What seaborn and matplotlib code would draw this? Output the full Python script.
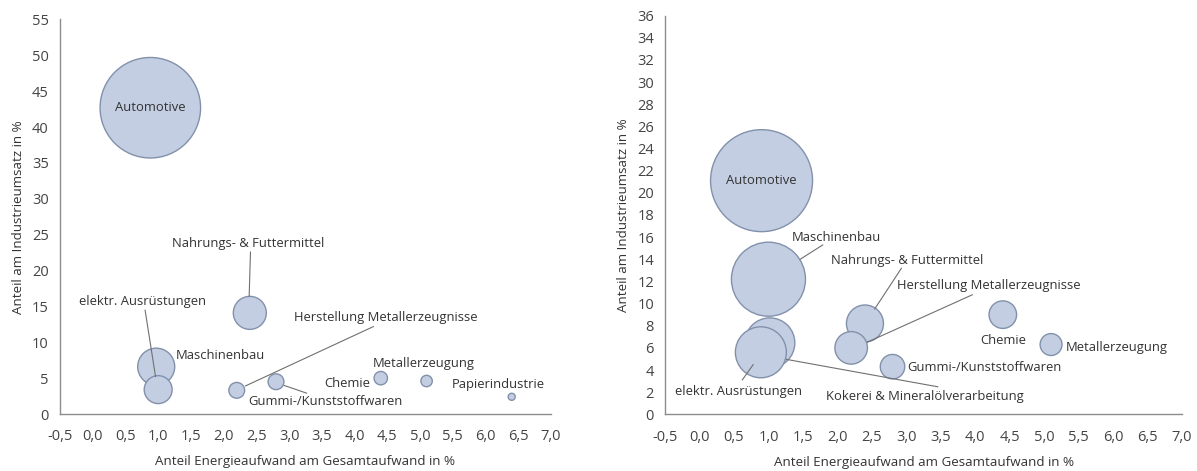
import matplotlib
matplotlib.use("Agg")
import matplotlib.pyplot as plt
import seaborn as sns
import pandas as pd
from matplotlib.ticker import FuncFormatter, MultipleLocator

sns.set_theme(style="white")
plt.rcParams['font.family'] = ['Open Sans', 'DejaVu Sans']

# ---------------- data: left chart ----------------
left_sectors = ["Automotive", "Nahrungs- & Futtermittel", "Maschinenbau",
                "elektr. Ausrüstungen", "Herstellung Metallerzeugnisse",
                "Gummi-/Kunststoffwaren", "Chemie", "Metallerzeugung",
                "Papierindustrie"]
left_energy = [0.88, 2.4, 0.97, 1.0, 2.2, 2.8, 4.4, 5.1, 6.4]
left_revenue = [42.7, 14.1, 6.6, 3.4, 3.3, 4.5, 5.0, 4.6, 2.4]
left_weight = [101, 10.9, 13.7, 7.8, 2.5, 2.5, 1.8, 1.3, 0.5]

# ---------------- data: right chart ----------------
right_sectors = ["Automotive", "Maschinenbau", "Kokerei & Mineralölverarbeitung",
                 "elektr. Ausrüstungen", "Nahrungs- & Futtermittel",
                 "Herstellung Metallerzeugnisse", "Gummi-/Kunststoffwaren",
                 "Chemie", "Metallerzeugung"]
right_energy = [0.9, 1.0, 1.02, 0.89, 2.4, 2.2, 2.8, 4.4, 5.1]
right_revenue = [21.1, 12.2, 6.45, 5.6, 8.2, 6.0, 4.3, 9.0, 6.3]
right_weight = [104, 54.8, 25.0, 26.0, 13.7, 10.6, 6.0, 7.6, 4.8]

x_label = "Anteil Energieaufwand am Gesamtaufwand in %"
y_label = "Anteil am Industrieumsatz in %"

# ---------------- layout: labels (text, x, y, ha, va) and leader lines ----------------
left_labels = [
    ("Automotive", 0.88, 42.7, "center", "center"),
    ("Nahrungs- & Futtermittel", 2.38, 23.8, "center", "center"),
    ("elektr. Ausrüstungen", 0.755, 15.7, "center", "center"),
    ("Maschinenbau", 1.27, 8.1, "left", "center"),
    ("Herstellung Metallerzeugnisse", 3.08, 13.4, "left", "center"),
    ("Gummi-/Kunststoffwaren", 2.38, 1.7, "left", "center"),
    ("Chemie", 4.23, 4.2, "right", "center"),
    ("Metallerzeugung", 4.27, 7.1, "left", "center"),
    ("Papierindustrie", 5.48, 4.1, "left", "center"),
]
left_lines = [
    ((2.41, 22.6), (2.39, 16.4)),
    ((0.80, 14.5), (0.96, 5.2)),
    ((4.29, 12.2), (2.33, 3.9)),
    ((2.92, 4.0), (3.27, 2.9)),
]
right_labels = [
    ("Automotive", 0.9, 21.1, "center", "center"),
    ("Maschinenbau", 1.99, 16.0, "center", "center"),
    ("Nahrungs- & Futtermittel", 3.01, 13.9, "center", "center"),
    ("Herstellung Metallerzeugnisse", 2.87, 11.6, "left", "center"),
    ("Chemie", 4.4, 6.7, "center", "center"),
    ("Metallerzeugung", 5.32, 6.06, "left", "center"),
    ("Gummi-/Kunststoffwaren", 3.02, 4.27, "left", "center"),
    ("elektr. Ausrüstungen", 0.57, 2.03, "center", "center"),
    ("Kokerei & Mineralölverarbeitung", 3.27, 1.58, "center", "center"),
]
right_lines = [
    ((1.79, 15.3), (1.46, 14.0)),
    ((2.93, 13.2), (2.54, 9.5)),
    ((3.96, 10.8), (2.43, 6.5)),
    ((0.78, 4.5), (0.62, 3.1)),
    ((1.26, 4.96), (3.46, 2.48)),
]

FILL = "#c3cee2"
EDGE = "#8291ab"
TEXT = "#333333"
AXIS = "#8c8c8c"
LINE = "#707070"
S_PER_UNIT = 51.84  # marker area (pt^2) per weight unit
WMAX = 104

fig = plt.figure(figsize=(11.97, 4.71), dpi=100)
ax1 = fig.add_axes([0.0501, 0.121, 0.4102, 0.8376])
ax2 = fig.add_axes([0.5556, 0.1204, 0.4319, 0.8463])


def comma(v, pos):
    return f"{v:.1f}".replace(".", ",")


def draw(ax, sectors, ex, rev, w, labels, lines, ymax, ystep):
    df = pd.DataFrame({"sector": sectors, "x": ex, "y": rev, "w": w})
    sns.scatterplot(data=df, x="x", y="y", size="w", sizes=(0, WMAX * S_PER_UNIT),
                    size_norm=(0, WMAX), color=FILL, edgecolor=EDGE, linewidth=1.0,
                    alpha=1.0, legend=False, ax=ax, zorder=3)
    for (p0, p1) in lines:
        ax.plot([p0[0], p1[0]], [p0[1], p1[1]], color=LINE, lw=0.8, zorder=4)
    for (t, tx, ty, ha, va) in labels:
        ax.text(tx, ty, t, ha=ha, va=va, fontsize=9.4, color=TEXT, zorder=5)
    ax.set_xlim(-0.5, 7.0)
    ax.set_ylim(0, ymax)
    ax.xaxis.set_major_locator(MultipleLocator(0.5))
    ax.yaxis.set_major_locator(MultipleLocator(ystep))
    ax.xaxis.set_major_formatter(FuncFormatter(comma))
    for side in ["top", "right"]:
        ax.spines[side].set_visible(False)
    for side in ["left", "bottom"]:
        ax.spines[side].set_color(AXIS)
        ax.spines[side].set_linewidth(1.0)
    ax.tick_params(axis="both", direction="out", length=4, width=0.8, color=AXIS,
                   labelsize=10.5, labelcolor="#444444")
    ax.tick_params(axis="x", pad=7)
    ax.tick_params(axis="y", pad=4)
    ax.set_xlabel(x_label, fontsize=9.6, color=TEXT, labelpad=8)
    ax.set_ylabel(y_label, fontsize=9.6, color=TEXT, labelpad=5)


draw(ax1, left_sectors, left_energy, left_revenue, left_weight,
     left_labels, left_lines, 55, 5)
draw(ax2, right_sectors, right_energy, right_revenue, right_weight,
     right_labels, right_lines, 36, 2)

fig.savefig("out.png", dpi=100)
